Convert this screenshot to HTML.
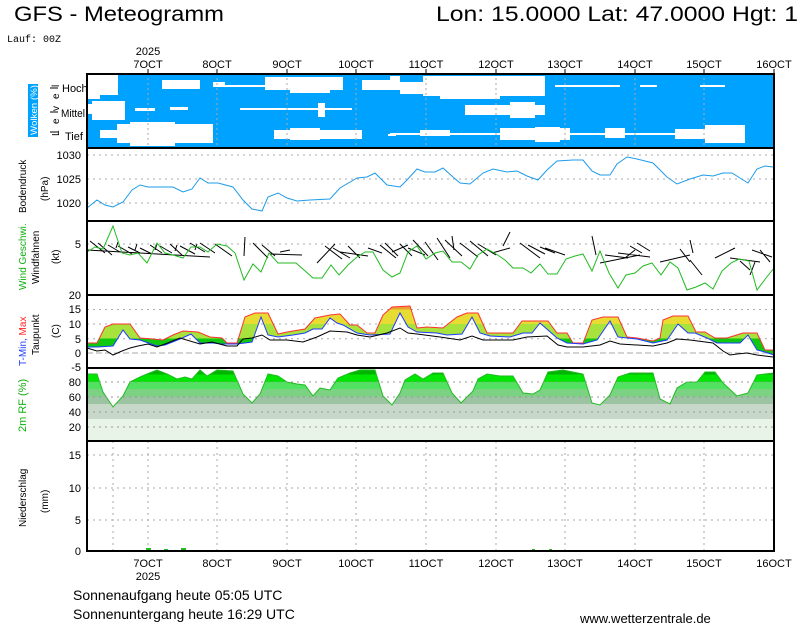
<!DOCTYPE html>
<html><head><meta charset="utf-8"><style>
html,body{margin:0;padding:0;background:#fff;}
svg{display:block;font-family:"Liberation Sans",sans-serif;}
</style></head><body>
<svg width="800" height="625" viewBox="0 0 800 625" xmlns="http://www.w3.org/2000/svg">
<defs>
<linearGradient id="tg" gradientUnits="userSpaceOnUse" x1="0" y1="295" x2="0" y2="368">
<stop offset="0" stop-color="#e8a030"/><stop offset="0.199" stop-color="#e8a030"/>
<stop offset="0.199" stop-color="#e6dc32"/><stop offset="0.397" stop-color="#e6dc32"/>
<stop offset="0.397" stop-color="#a8e23c"/><stop offset="0.598" stop-color="#a8e23c"/>
<stop offset="0.598" stop-color="#10c810"/><stop offset="1" stop-color="#10c810"/>
</linearGradient>
<linearGradient id="rg" gradientUnits="userSpaceOnUse" x1="0" y1="368" x2="0" y2="441">
<stop offset="0" stop-color="#00b400"/><stop offset="0.088" stop-color="#00b400"/>
<stop offset="0.088" stop-color="#00e600"/><stop offset="0.189" stop-color="#00e600"/>
<stop offset="0.189" stop-color="#50e260"/><stop offset="0.290" stop-color="#50e260"/>
<stop offset="0.290" stop-color="#7ad282"/><stop offset="0.392" stop-color="#7ad282"/>
<stop offset="0.392" stop-color="#9cc4a2"/><stop offset="0.493" stop-color="#9cc4a2"/>
<stop offset="0.493" stop-color="#c8d8c8"/><stop offset="0.696" stop-color="#c8d8c8"/>
<stop offset="0.696" stop-color="#e8f4e8"/><stop offset="1" stop-color="#e8f4e8"/>
</linearGradient>
</defs>

<!-- header -->
<text x="14" y="21" font-size="21" textLength="210" lengthAdjust="spacingAndGlyphs">GFS - Meteogramm</text>
<text x="436" y="21" font-size="21" textLength="362" lengthAdjust="spacingAndGlyphs">Lon: 15.0000 Lat: 47.0000 Hgt: 1</text>
<text x="7" y="42" font-size="10" font-family="Liberation Mono, monospace">Lauf: 00Z</text>

<!-- top axis labels -->
<g font-size="11" text-anchor="middle">
<text x="148" y="55">2025</text>
<text x="148" y="68">7OCT</text><text x="217" y="68">8OCT</text><text x="287" y="68">9OCT</text>
<text x="356" y="68">10OCT</text><text x="426" y="68">11OCT</text><text x="496" y="68">12OCT</text>
<text x="565" y="68">13OCT</text><text x="635" y="68">14OCT</text><text x="704" y="68">15OCT</text><text x="774" y="68">16OCT</text>
</g>

<!-- clouds panel -->
<rect x="87" y="73" width="688" height="75" fill="#00a2ff"/>
<g fill="#fff">
<rect x="88" y="75" width="30" height="20"/><rect x="88" y="95" width="12" height="4"/>
<rect x="92" y="101" width="33" height="19"/><rect x="88" y="104" width="6" height="10"/>
<rect x="100" y="130" width="17" height="8"/>
<rect x="117" y="124" width="96" height="19"/><rect x="130" y="122" width="45" height="24"/>
<rect x="162" y="80" width="38" height="9"/><rect x="213" y="82" width="12" height="5"/>
<rect x="225" y="85" width="40" height="2"/>
<rect x="265" y="77" width="78" height="13"/><rect x="290" y="90" width="40" height="3"/>
<rect x="240" y="108" width="112" height="2"/><rect x="318" y="103" width="7" height="14"/>
<rect x="135" y="108" width="20" height="3"/><rect x="170" y="107" width="18" height="3"/>
<rect x="274" y="130" width="88" height="9"/><rect x="290" y="128" width="30" height="12"/>
<rect x="362" y="80" width="38" height="10"/><rect x="388" y="134" width="8" height="2"/>
<rect x="390" y="76" width="10" height="9"/><rect x="400" y="82" width="23" height="12"/>
<rect x="423" y="76" width="122" height="20"/><rect x="440" y="96" width="60" height="3"/>
<rect x="465" y="105" width="80" height="10"/><rect x="510" y="102" width="25" height="16"/>
<rect x="390" y="133" width="340" height="2"/><rect x="420" y="130" width="30" height="6"/>
<rect x="500" y="128" width="70" height="12"/><rect x="535" y="127" width="25" height="15"/>
<rect x="605" y="128" width="20" height="10"/>
<rect x="675" y="129" width="70" height="10"/><rect x="705" y="125" width="40" height="18"/>
<rect x="555" y="85" width="65" height="2"/><rect x="640" y="85" width="17" height="2"/><rect x="700" y="85" width="25" height="2"/>
</g>
<g stroke="#aaa" stroke-dasharray="2,3" stroke-width="1">
<line x1="148" y1="73" x2="148" y2="148"/><line x1="217" y1="73" x2="217" y2="148"/><line x1="287" y1="73" x2="287" y2="148"/>
<line x1="356" y1="73" x2="356" y2="148"/><line x1="426" y1="73" x2="426" y2="148"/><line x1="496" y1="73" x2="496" y2="148"/>
<line x1="565" y1="73" x2="565" y2="148"/><line x1="635" y1="73" x2="635" y2="148"/><line x1="704" y1="73" x2="704" y2="148"/>
</g>
<rect x="28" y="84" width="10" height="53" fill="#00a2ff"/>
<text transform="translate(37,135) rotate(-90)" font-size="9" fill="#fff" textLength="50" lengthAdjust="spacingAndGlyphs">Wolken (%)</text>
<g font-size="10">
<text transform="translate(59,136) rotate(-90)">L</text>
<text transform="translate(59,124) rotate(-90)">e</text>
<text transform="translate(59,111) rotate(-90)">v</text>
<text transform="translate(59,99) rotate(-90)">e</text>
<text transform="translate(59,87) rotate(-90)">l</text>
</g>
<g stroke="#000"><line x1="50" y1="88" x2="58" y2="88"/><line x1="50" y1="112" x2="58" y2="112"/><line x1="50" y1="132" x2="58" y2="132"/></g>
<g font-size="11"><text x="62" y="92">Hoch</text><text x="61" y="117" textLength="24" lengthAdjust="spacingAndGlyphs">Mittel</text><text x="65" y="140">Tief</text></g>

<!-- pressure -->
<g stroke="#aaa" stroke-dasharray="2,4"><line x1="87" y1="155" x2="775" y2="155"/><line x1="87" y1="179" x2="775" y2="179"/><line x1="87" y1="203" x2="775" y2="203"/></g>
<g font-size="11" text-anchor="end"><text x="81" y="159">1030</text><text x="81" y="183">1025</text><text x="81" y="207">1020</text></g>
<text transform="translate(26,213) rotate(-90)" font-size="10">Bodendruck</text>
<text transform="translate(48,201) rotate(-90)" font-size="10">(hPa)</text>
<polyline fill="none" stroke="#1e9bea" stroke-width="1" points="87,208 97,200 105,205 113,207 123,202 132,190 140,185 148,187 173,187 183,192 192,189 200,178 208,183 218,183 233,187 243,200 252,209 262,211 268,197 278,193 287,198 297,201 310,200 330,199 340,188 357,178 367,177 375,173 387,185 400,187 407,180 417,169 425,172 435,172 443,168 453,177 460,183 470,184 483,173 493,169 507,172 517,171 527,176 538,180 547,170 557,161 573,160 583,160 592,171 600,175 610,175 617,164 627,157 637,159 653,163 667,177 677,184 690,179 703,175 713,176 723,173 732,173 740,178 748,183 757,169 765,166 773,167"/>

<!-- wind -->
<line x1="87" y1="244" x2="775" y2="244" stroke="#aaa" stroke-dasharray="2,4"/>
<text x="81" y="248" font-size="11" text-anchor="end">5</text>
<text transform="translate(26,290) rotate(-90)" font-size="10" fill="#10b010">Wind Geschwi.</text>
<text transform="translate(39,284) rotate(-90)" font-size="10">Windfahnen</text>
<text transform="translate(59,264) rotate(-90)" font-size="10">(kt)</text>
<g stroke="#000" stroke-width="1" fill="none">
<path d="M87,250 L210,257 M90,241 L105,253 M98,243 L112,255 M108,245 L120,252 M118,246 L132,254 M128,247 L140,253 M140,248 L152,254 M150,245 L162,253 M160,246 L172,253 M170,244 L182,255 M180,246 L195,254 M190,243 L205,252 M200,243 L215,253 M215,244 L232,256 M116,248 L118,242 M135,250 L137,244 M155,250 L157,244 M175,251 L177,245 M195,250 L197,244"/>
<path d="M245,237 L244,256 M253,243 L268,258 M262,245 L275,256 M270,254 L302,255 M280,252 L290,250"/>
<path d="M317,263 L335,244 M325,246 L342,259 M333,248 L350,258 M340,252 L368,256 M348,246 L360,258 M368,248 L382,253 M380,245 L396,258 M385,243 L398,256"/>
<path d="M392,252 L408,245 M400,244 L412,256 M408,248 L425,255 M413,240 L428,256 M425,242 L438,260 M437,238 L450,258 M445,240 L462,256 M452,236 L454,250 M460,243 L478,257 M470,241 L488,256 M478,244 L496,255 M492,253 L510,248 M503,246 L510,232 M520,243 L540,258 M528,245 L545,254 M540,247 L555,253 M545,248 L565,255 M592,236 L596,255"/>
<path d="M600,263 L640,255 M605,255 L628,258 M618,253 L650,257 M625,258 L635,250 M630,246 L642,253 M637,243 L650,251 M660,262 L690,255 M680,249 L690,262 M690,240 L693,253 M690,260 L702,275 M715,258 L735,248 M730,258 L760,262 M740,261 L750,270 M752,250 L772,257 M755,262 L750,275 M760,250 L770,262"/>
</g>
<g fill="none" stroke="#22bb22" stroke-width="1">
<polyline points="87,252 95,247 103,249 113,226 122,253 130,255 138,253 147,263 157,243 165,253 173,255 183,258 191,247 200,247 208,252 217,244 227,246 235,253 244,280 253,264 261,272 269,253 278,263 287,263 296,263 304,270 313,278 322,278 331,265 339,275 348,265 357,257 365,252 373,252 383,270 392,277 400,273 408,252 417,246 426,259 435,253 443,251 452,262 461,262 470,269 478,255 487,249 496,254 505,260 513,268 523,268 531,273 540,264 548,274 557,274 566,259 575,256 583,254 592,271 600,251 609,273 618,288 626,275 635,273 643,266 652,263 661,275 670,262 678,268 687,290 696,287 705,283 713,289 722,271 731,263 739,259 749,261 757,290 766,278 774,268"/>
</g>

<!-- temperature -->
<g stroke="#aaa" stroke-dasharray="2,4"><line x1="87" y1="309.5" x2="775" y2="309.5"/><line x1="87" y1="324" x2="775" y2="324"/><line x1="87" y1="338.7" x2="775" y2="338.7"/><line x1="87" y1="353" x2="775" y2="353" stroke-dasharray="6,3"/></g>
<g font-size="11" text-anchor="end"><text x="81" y="299">20</text><text x="81" y="313">15</text><text x="81" y="328">10</text><text x="81" y="343">5</text><text x="81" y="357">0</text><text x="81" y="371">-5</text></g>
<text transform="translate(26,366) rotate(-90)" font-size="10"><tspan fill="#1e3cff">T-Min, </tspan><tspan fill="#ff2020">Max</tspan></text>
<text transform="translate(39,355) rotate(-90)" font-size="10">Taupunkt</text>
<text transform="translate(59,338) rotate(-90)" font-size="10">(C)</text>
<polygon fill="url(#tg)" points="87,343 97,343 105,327 113,324 130,324 140,338 153,339 163,340 173,335 183,331 198,332 210,337 222,338 227,343 237,343 245,317 255,313 268,313 278,334 287,332 305,329 315,318 330,315 340,314 350,325 357,325 367,333 375,333 383,315 392,307 410,306 417,328 427,327 443,328 457,317 467,313 478,313 487,333 497,333 513,333 522,321 548,321 557,333 567,333 573,343 583,343 592,320 603,317 618,317 627,337 637,338 653,341 660,338 663,320 673,316 688,316 696,332 705,332 715,338 727,338 743,333 757,333 765,350 773,350 774,355 765,352 757,350 748,335 740,343 717,343 707,338 695,333 688,333 678,324 667,340 653,343 637,339 618,337 610,321 597,340 583,344 567,343 557,338 540,323 532,333 523,333 510,337 490,336 480,333 472,317 462,334 447,335 437,333 417,332 408,327 400,313 390,334 370,335 357,333 343,325 337,323 330,318 322,329 313,329 305,333 293,335 278,337 268,335 261,317 252,342 237,344 222,344 213,343 200,343 191,334 180,339 165,345 157,346 140,340 130,339 123,330 113,346 97,347 87,347"/>
<polyline fill="none" stroke="#ff3030" points="87,343 97,343 105,327 113,324 130,324 140,338 153,339 163,340 173,335 183,331 198,332 210,337 222,338 227,343 237,343 245,317 255,313 268,313 278,334 287,332 305,329 315,318 330,315 340,314 350,325 357,325 367,333 375,333 383,315 392,307 410,306 417,328 427,327 443,328 457,317 467,313 478,313 487,333 497,333 513,333 522,321 548,321 557,333 567,333 573,343 583,343 592,320 603,317 618,317 627,337 637,338 653,341 660,338 663,320 673,316 688,316 696,332 705,332 715,338 727,338 743,333 757,333 765,350 773,350"/>
<polyline fill="none" stroke="#1e3cff" points="87,347 97,347 113,346 123,330 130,339 140,340 157,346 165,345 180,339 191,334 200,343 213,343 222,344 237,344 252,342 261,317 268,335 278,337 293,335 305,333 313,329 322,329 330,318 337,323 343,325 357,333 370,335 390,334 400,313 408,327 417,332 437,333 447,335 462,334 472,317 480,333 490,336 510,337 523,333 532,333 540,323 557,338 567,343 583,344 597,340 610,321 618,337 637,339 653,343 667,340 678,324 688,333 695,333 707,338 717,343 740,343 748,335 757,350 765,352 774,355"/>
<polyline fill="none" stroke="#000" points="87,348 97,351 105,350 113,355 122,351 130,348 138,346 148,344 157,347 165,344 180,338 200,344 212,342 227,346 237,346 243,339 252,338 262,335 270,340 287,340 303,342 317,337 330,331 347,332 357,335 370,337 387,333 400,328 408,333 417,334 440,337 460,340 472,336 483,340 513,340 527,337 547,336 558,345 567,347 583,347 600,345 610,341 620,344 653,346 667,343 677,339 690,340 713,343 723,351 730,355 737,354 747,353 757,355 773,357"/>

<!-- RH -->
<polygon fill="url(#rg)" points="87,441 87,374 97,374 103,392 113,407 123,396 130,382 140,377 147,374 157,370 167,374 177,379 185,377 192,379 200,370 207,376 217,370 233,371 243,394 252,403 260,394 268,374 278,376 287,382 297,384 305,385 313,396 320,388 330,390 338,378 350,373 360,370 375,370 383,396 392,405 400,393 405,380 415,374 423,379 433,373 443,373 452,393 461,403 473,391 478,379 487,374 500,376 513,376 523,393 533,394 540,390 548,372 563,370 583,374 592,403 600,405 610,395 618,377 630,373 653,373 660,399 670,404 677,388 687,382 697,382 705,372 715,372 723,383 737,396 748,393 757,375 765,374 774,373 774,441"/>
<polyline fill="none" stroke="#22bb22" points="87,374 97,374 103,392 113,407 123,396 130,382 140,377 147,374 157,370 167,374 177,379 185,377 192,379 200,370 207,376 217,370 233,371 243,394 252,403 260,394 268,374 278,376 287,382 297,384 305,385 313,396 320,388 330,390 338,378 350,373 360,370 375,370 383,396 392,405 400,393 405,380 415,374 423,379 433,373 443,373 452,393 461,403 473,391 478,379 487,374 500,376 513,376 523,393 533,394 540,390 548,372 563,370 583,374 592,403 600,405 610,395 618,377 630,373 653,373 660,399 670,404 677,388 687,382 697,382 705,372 715,372 723,383 737,396 748,393 757,375 765,374 774,373"/>
<g stroke="#999" stroke-dasharray="2,4"><line x1="87" y1="382" x2="775" y2="382"/><line x1="87" y1="397" x2="775" y2="397"/><line x1="87" y1="412" x2="775" y2="412"/><line x1="87" y1="427" x2="775" y2="427"/></g>
<g font-size="11" text-anchor="end"><text x="81" y="386">80</text><text x="81" y="401">60</text><text x="81" y="416">40</text><text x="81" y="431">20</text></g>
<text transform="translate(26,432) rotate(-90)" font-size="11" fill="#10b010">2m RF (%)</text>

<!-- precip -->
<g stroke="#aaa" stroke-dasharray="2,4">
<line x1="87" y1="455" x2="775" y2="455"/><line x1="87" y1="488" x2="775" y2="488"/><line x1="87" y1="520" x2="775" y2="520"/>
<line x1="113" y1="441" x2="113" y2="551"/><line x1="148" y1="441" x2="148" y2="551"/><line x1="217" y1="441" x2="217" y2="551"/><line x1="287" y1="441" x2="287" y2="551"/>
<line x1="356" y1="441" x2="356" y2="551"/><line x1="426" y1="441" x2="426" y2="551"/><line x1="496" y1="441" x2="496" y2="551"/>
<line x1="565" y1="441" x2="565" y2="551"/><line x1="635" y1="441" x2="635" y2="551"/><line x1="704" y1="441" x2="704" y2="551"/>
</g>
<g font-size="11" text-anchor="end"><text x="81" y="459">15</text><text x="81" y="492">10</text><text x="81" y="524">5</text><text x="81" y="555">0</text></g>
<text transform="translate(26,527) rotate(-90)" font-size="10">Niederschlag</text>
<text transform="translate(48,513) rotate(-90)" font-size="10">(mm)</text>
<g fill="#22bb22"><rect x="146" y="548" width="5" height="3"/><rect x="164" y="549" width="4" height="2"/><rect x="181" y="548" width="5" height="3"/><rect x="532" y="549" width="3" height="2"/><rect x="549" y="549" width="3" height="2"/></g>
<g fill="#e03030"><rect x="113" y="550" width="2" height="1"/><rect x="411" y="550" width="2" height="1"/><rect x="528" y="550" width="2" height="1"/><rect x="545" y="550" width="2" height="1"/></g>

<!-- frames -->
<g stroke="#000" fill="none" stroke-width="2">
<rect x="87" y="74" width="687" height="477"/>
<line x1="87" y1="148" x2="774" y2="148"/><line x1="87" y1="221" x2="774" y2="221"/>
<line x1="87" y1="295" x2="774" y2="295"/><line x1="87" y1="368" x2="774" y2="368"/><line x1="87" y1="441" x2="774" y2="441"/>
</g>
<g stroke="#000"><line x1="148" y1="69" x2="148" y2="74"/><line x1="217" y1="69" x2="217" y2="74"/><line x1="287" y1="69" x2="287" y2="74"/><line x1="356" y1="69" x2="356" y2="74"/><line x1="426" y1="69" x2="426" y2="74"/><line x1="496" y1="69" x2="496" y2="74"/><line x1="565" y1="69" x2="565" y2="74"/><line x1="635" y1="69" x2="635" y2="74"/><line x1="704" y1="69" x2="704" y2="74"/><line x1="774" y1="69" x2="774" y2="74"/></g>

<!-- bottom axis labels -->
<g font-size="11" text-anchor="middle">
<text x="148" y="567">7OCT</text><text x="217" y="567">8OCT</text><text x="287" y="567">9OCT</text>
<text x="356" y="567">10OCT</text><text x="426" y="567">11OCT</text><text x="496" y="567">12OCT</text>
<text x="565" y="567">13OCT</text><text x="635" y="567">14OCT</text><text x="704" y="567">15OCT</text><text x="774" y="567">16OCT</text>
<text x="148" y="580">2025</text>
</g>
<g font-size="14"><text x="73" y="600">Sonnenaufgang heute 05:05 UTC</text><text x="73" y="619">Sonnenuntergang heute 16:29 UTC</text></g>
<text x="580" y="623" font-size="13">www.wetterzentrale.de</text>
</svg>
</body></html>
